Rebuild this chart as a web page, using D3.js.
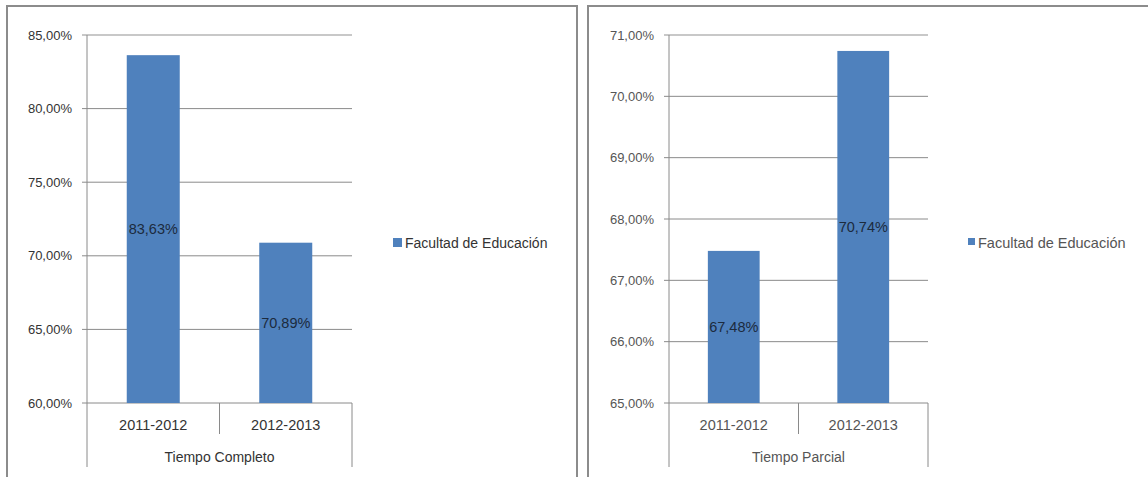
<!DOCTYPE html>
<html>
<head>
<meta charset="utf-8">
<script src="https://cdn.jsdelivr.net/npm/d3@7"></script>
<style>
  body { margin: 0; background: #fff; }
  text { font-family: "Liberation Sans", Arial, sans-serif; }
</style>
</head>
<body>
<svg class="MainSvg" width="1148" height="477"></svg>
<script>
    // datos
    var categories = ["2011-2012", "2012-2013"];
    var seriesName = "Facultad de Educación";
    var groupLabels = ["Tiempo Completo", "Tiempo Parcial"];
    var valuesCompleto = [83.63, 70.89];
    var valuesParcial = [67.48, 70.74];
    var ticksCompleto = [60, 65, 70, 75, 80, 85];
    var ticksParcial = [65, 66, 67, 68, 69, 70, 71];

    var barColor = "#4f81bd";
    var es = d3.formatLocale({ decimal: ",", thousands: ".", grouping: [3], currency: ["", "€"] });
    var pct = function (v) { return es.format(".2f")(v) + "%"; };

    var svg = d3.select(".MainSvg");

    function drawPanel(opt) {
        var g = svg.append("g");

        // marco
        g.append("rect")
            .attr("x", opt.frameX).attr("y", 6)
            .attr("width", opt.frameW).attr("height", 490)
            .attr("fill", "#fff")
            .attr("stroke", "#8c8c8c")
            .attr("stroke-width", 2);

        var y = d3.scaleLinear()
            .domain(d3.extent(opt.ticks))
            .range([403, 35]);
        var x = d3.scaleBand()
            .domain(categories)
            .range([opt.x0, opt.x1])
            .paddingInner(0.6)
            .paddingOuter(0.3);
        var step = x.step();

        // líneas de división
        g.selectAll(".grid")
            .data(opt.ticks)
            .enter().append("line")
            .attr("x1", opt.x0 - 5).attr("x2", opt.x1)
            .attr("y1", function (d) { return y(d); })
            .attr("y2", function (d) { return y(d); })
            .attr("stroke", function (d, i) { return i == opt.ticks.length - 1 ? "#c8c8c8" : "#8a8a8a"; })
            .attr("stroke-width", function (d, i) { return i == opt.ticks.length - 1 ? 2 : 1; });

        // eje y
        var yAxis = d3.axisLeft(y)
            .tickValues(opt.ticks)
            .tickSize(0)
            .tickPadding(15)
            .tickFormat(pct);
        var ya = g.append("g")
            .attr("transform", "translate(" + opt.x0 + ",0)")
            .call(yAxis);
        ya.select(".domain").remove();
        ya.selectAll("text")
            .attr("fill", opt.textColor)
            .style("font-size", "13px");

        // barras
        g.selectAll(".bar")
            .data(opt.values)
            .enter().append("rect")
            .attr("x", function (d, i) { return x(categories[i]); })
            .attr("y", function (d) { return y(d); })
            .attr("width", x.bandwidth())
            .attr("height", function (d) { return y.range()[0] - y(d); })
            .attr("fill", barColor);

        // etiquetas de datos
        g.selectAll(".lbl")
            .data(opt.values)
            .enter().append("text")
            .attr("x", function (d, i) { return x(categories[i]) + x.bandwidth() / 2; })
            .attr("y", function (d) { return (y(d) + y.range()[0]) / 2; })
            .attr("dy", "0.35em")
            .attr("text-anchor", "middle")
            .attr("fill", "#1c2b3e")
            .style("font-size", "14.5px")
            .text(pct);

        // eje vertical y separadores de categorías
        var axisColor = "#8a8a8a";
        g.append("line")
            .attr("x1", opt.x0).attr("x2", opt.x0)
            .attr("y1", 35).attr("y2", 467)
            .attr("stroke", axisColor);
        g.append("line")
            .attr("x1", opt.x0 + step).attr("x2", opt.x0 + step)
            .attr("y1", 403).attr("y2", 434)
            .attr("stroke", axisColor);
        g.append("line")
            .attr("x1", opt.x1).attr("x2", opt.x1)
            .attr("y1", 403).attr("y2", 467)
            .attr("stroke", axisColor);

        g.selectAll(".cat")
            .data(categories)
            .enter().append("text")
            .attr("x", function (d) { return x(d) + x.bandwidth() / 2; })
            .attr("y", 425)
            .attr("dy", "0.35em")
            .attr("text-anchor", "middle")
            .attr("fill", opt.textColor)
            .style("font-size", "14.5px")
            .text(function (d) { return d; });

        g.append("text")
            .attr("x", (opt.x0 + opt.x1) / 2)
            .attr("y", 457)
            .attr("dy", "0.35em")
            .attr("text-anchor", "middle")
            .attr("fill", opt.textColor)
            .style("font-size", "14px")
            .text(opt.group);

        // leyenda
        g.append("rect")
            .attr("x", opt.legendX).attr("y", 238)
            .attr("width", opt.legendSq).attr("height", opt.legendSq)
            .attr("fill", barColor);
        g.append("text")
            .attr("x", opt.legendX + opt.legendSq + 3)
            .attr("y", 243)
            .attr("dy", "0.35em")
            .attr("fill", opt.textColor)
            .style("font-size", opt.legendFont)
            .text(seriesName);
    }

    drawPanel({
        frameX: 7, frameW: 570, x0: 87, x1: 352,
        values: valuesCompleto, ticks: ticksCompleto, group: groupLabels[0],
        legendX: 393, legendSq: 9, legendFont: "14px", textColor: "#333"
    });
    drawPanel({
        frameX: 588, frameW: 600, x0: 669, x1: 928,
        values: valuesParcial, ticks: ticksParcial, group: groupLabels[1],
        legendX: 968, legendSq: 7, legendFont: "14.5px", textColor: "#555"
    });
</script>
</body>
</html>
